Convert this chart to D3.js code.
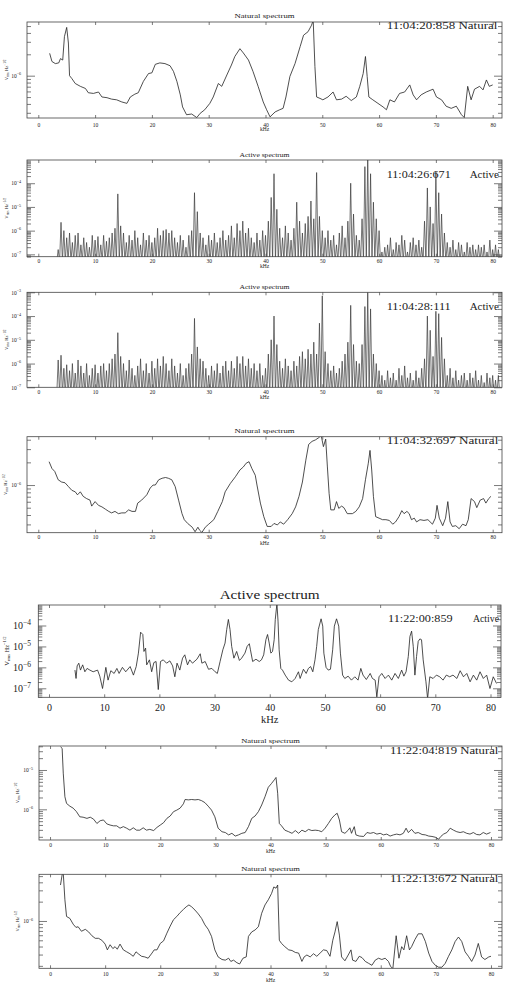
<!DOCTYPE html>
<html>
<head>
<meta charset="utf-8">
<title>Natural / Active spectra</title>
<script src="https://d3js.org/d3.v7.min.js"></script>
<style>
  html, body { margin:0; padding:0; background:#fff; }
  svg { display:block; }
  text { font-family:"Liberation Serif","DejaVu Serif",serif; fill:#222; }
  .frame { fill:none; stroke:#444; stroke-width:0.8; }
  .tick line { stroke:#444; stroke-width:0.7; }
  .domain { display:none; }
  .spec { fill:none; stroke:#222; stroke-width:0.8; stroke-linejoin:round; }
  .comb { fill:none; stroke:#3a3a3a; stroke-width:0.7; }
</style>
</head>
<body>
<script>
// ---- data: frequency (kHz) and log10 of the spectral density (V Hz^-1/2) ----

// 11:04:20:858 natural
const p1F = [2.0,2.4,3.0,3.6,3.9,4.3,4.6,5.0,5.3,5.5,5.9,6.5,7.4,8.3,8.8,9.7,10.6,11.2,12.1,12.9,13.8,14.7,15.6,16.2,17.0,17.6,18.5,19.4,20.0,20.6,21.4,22.3,23.2,23.8,24.4,25.0,25.4,26.1,27.0,27.9,28.5,29.3,30.2,30.8,31.7,32.3,33.2,34.0,34.6,35.5,36.1,37.0,37.8,38.7,39.6,40.2,40.8,41.7,42.5,43.1,43.6,44.3,45.2,46.1,46.7,47.5,48.1,48.4,48.7,49.0,49.6,50.1,51.0,51.9,52.5,53.4,54.2,55.1,56.0,56.6,57.2,57.6,57.9,58.2,58.9,59.8,60.7,61.3,61.9,62.7,63.6,64.5,65.4,66.0,66.6,67.4,68.3,69.5,70.1,71.0,71.8,72.7,73.6,74.5,75.0,75.6,76.2,76.8,77.7,78.3,78.9,79.4,80.0];
const p1L = [-5.685,-5.80,-5.83,-5.82,-5.76,-5.78,-5.45,-5.32,-5.54,-6.0,-6.04,-6.11,-6.15,-6.18,-6.24,-6.25,-6.23,-6.30,-6.31,-6.33,-6.34,-6.37,-6.39,-6.30,-6.26,-6.24,-6.08,-5.97,-5.96,-5.84,-5.82,-5.83,-5.86,-5.94,-6.08,-6.27,-6.44,-6.55,-6.54,-6.59,-6.53,-6.48,-6.39,-6.30,-6.11,-6.15,-5.99,-5.85,-5.73,-5.62,-5.68,-5.78,-5.94,-6.15,-6.37,-6.48,-6.58,-6.51,-6.48,-6.46,-6.30,-6.01,-5.83,-5.59,-5.43,-5.38,-5.29,-5.22,-5.87,-6.30,-6.32,-6.34,-6.30,-6.23,-6.34,-6.33,-6.29,-6.35,-6.30,-6.15,-5.97,-5.73,-6.01,-6.30,-6.34,-6.39,-6.44,-6.48,-6.34,-6.37,-6.25,-6.23,-6.13,-6.27,-6.34,-6.27,-6.23,-6.19,-6.30,-6.34,-6.43,-6.46,-6.43,-6.55,-6.59,-6.15,-6.34,-6.19,-6.15,-6.20,-6.06,-6.15,-6.13];

// active spectra: peak of each frequency bin, bins from 3.5 kHz every 0.5 kHz
const activeBins = d3.range(3.5, 81.01, 0.5);
const combFloor = 5e-8;
// 11:04:26:671 active
const p2L = [
  -6.8,-5.65,-6.0,-6.3,-6.1,-6.5,-6.2,-6.1,-6.6,-6.3,
  -6.5,-6.7,-6.2,-6.4,-6.25,-6.6,-6.2,-6.45,-6.3,-6.1,
  -5.9,-4.45,-5.8,-6.1,-6.5,-6.2,-6.4,-6.0,-6.3,-6.6,
  -6.1,-6.4,-6.2,-6.5,-6.3,-5.9,-6.2,-6.0,-5.95,-6.1,
  -6.0,-6.3,-6.5,-6.2,-6.4,-6.7,-6.2,-6.0,-4.4,-5.2,
  -6.1,-6.3,-6.6,-6.2,-6.4,-6.1,-6.5,-6.3,-6.0,-6.4,
  -6.2,-5.8,-6.3,-5.7,-6.0,-5.6,-6.1,-5.9,-6.3,-6.5,
  -6.1,-6.4,-6.0,-6.2,-5.6,-4.6,-3.6,-5.1,-5.9,-6.3,
  -5.8,-6.1,-6.4,-5.9,-4.8,-5.6,-6.1,-5.7,-5.4,-4.75,
  -5.5,-3.55,-5.4,-6.0,-6.3,-6.0,-6.4,-6.2,-6.6,-6.1,
  -5.8,-6.3,-5.6,-4.0,-5.3,-6.2,-6.4,-5.5,-3.3,-2.9,
  -3.6,-4.8,-5.5,-6.0,-6.9,-6.7,-6.6,-6.3,-6.8,-6.5,
  -6.6,-6.2,-6.4,-6.9,-6.5,-6.3,-6.6,-6.4,-6.7,-5.6,
  -4.2,-5.0,-5.7,-3.5,-4.4,-5.3,-6.1,-6.5,-6.7,-6.4,
  -6.8,-6.5,-6.6,-6.9,-6.5,-6.7,-6.6,-6.8,-6.6,-6.7,
  -6.6,-6.9,-6.4,-6.8,-6.6,-6.8];
// 11:04:28:111 active
const p3L = [
  -5.85,-5.65,-6.2,-6.05,-6.3,-6.0,-6.4,-5.85,-6.1,-6.4,
  -6.0,-6.5,-6.2,-6.05,-6.4,-6.1,-6.0,-6.3,-6.0,-5.8,
  -5.6,-4.7,-5.7,-6.0,-6.3,-5.85,-6.2,-6.5,-6.1,-5.8,
  -6.3,-6.0,-6.4,-5.9,-6.2,-5.8,-6.1,-5.7,-6.0,-6.3,
  -5.8,-6.1,-6.4,-6.0,-6.5,-6.2,-6.0,-5.6,-4.1,-5.3,
  -5.8,-5.9,-6.2,-6.5,-6.1,-6.3,-6.0,-6.4,-6.1,-5.9,
  -6.3,-5.9,-6.2,-5.7,-6.0,-5.7,-6.1,-5.8,-6.2,-6.0,
  -6.3,-6.0,-6.5,-6.2,-5.6,-5.0,-4.0,-5.2,-5.9,-6.2,
  -5.8,-6.1,-6.3,-5.9,-6.1,-5.7,-5.5,-5.8,-5.4,-5.6,
  -5.1,-5.6,-4.3,-3.15,-5.5,-6.0,-6.3,-6.1,-6.4,-6.2,
  -5.9,-5.6,-5.1,-3.55,-5.2,-5.9,-6.0,-5.2,-3.6,-3.0,
  -3.7,-5.6,-6.0,-6.3,-6.5,-6.7,-6.3,-6.6,-6.4,-6.7,
  -6.2,-6.5,-6.1,-6.6,-6.4,-6.7,-6.3,-6.6,-6.2,-5.8,
  -4.0,-4.6,-5.7,-3.8,-3.9,-4.9,-5.8,-6.5,-6.2,-6.6,
  -6.3,-6.7,-6.5,-6.4,-6.7,-6.4,-6.6,-6.3,-6.7,-6.5,
  -6.8,-6.4,-6.6,-6.5,-6.7,-6.5];

// 11:04:32:697 natural
const p4F = [1.9,2.4,2.9,3.5,4.1,4.7,5.3,5.9,6.5,6.9,7.4,7.9,8.5,9.1,9.4,10.0,10.6,11.2,11.8,12.4,12.9,13.5,14.1,14.7,15.3,15.9,16.5,17.1,17.5,18.2,19.1,19.7,20.2,20.6,21.2,21.8,22.4,22.9,23.5,24.1,24.7,25.3,25.7,26.3,27.1,27.6,28.1,28.4,28.8,29.4,30.0,30.9,31.6,32.4,32.9,33.8,34.7,35.5,36.1,36.6,37.1,37.6,38.2,38.5,39.1,39.7,40.3,41.0,41.5,42.1,42.6,43.2,43.9,44.7,45.3,45.9,46.5,47.1,47.6,48.2,48.8,49.4,49.8,50.2,50.6,50.9,51.2,51.5,52.1,52.5,52.9,53.4,53.8,54.4,55.3,55.9,56.5,57.1,57.6,58.1,58.4,58.7,59.0,59.4,60.0,60.6,61.2,61.8,62.4,62.9,63.5,64.0,64.4,64.9,65.3,65.7,66.2,66.6,67.2,67.9,68.6,69.4,69.9,70.2,70.6,71.2,71.7,72.1,72.5,72.9,73.5,74.1,74.7,75.3,75.7,76.2,76.8,77.2,77.8,78.4,78.8,79.3,79.7];
const p4L = [-5.69,-5.78,-5.82,-5.93,-5.96,-5.97,-6.02,-6.07,-6.09,-6.13,-6.09,-6.15,-6.18,-6.20,-6.28,-6.22,-6.27,-6.29,-6.32,-6.35,-6.37,-6.35,-6.38,-6.37,-6.37,-6.33,-6.35,-6.35,-6.24,-6.20,-6.13,-6.04,-6.0,-6.0,-5.93,-5.91,-5.90,-5.91,-5.93,-6.02,-6.20,-6.38,-6.46,-6.51,-6.56,-6.62,-6.56,-6.60,-6.63,-6.56,-6.52,-6.46,-6.35,-6.22,-6.09,-5.98,-5.89,-5.80,-5.76,-5.71,-5.69,-5.78,-5.87,-6.0,-6.24,-6.42,-6.55,-6.55,-6.51,-6.53,-6.49,-6.52,-6.46,-6.38,-6.29,-6.15,-5.96,-5.67,-5.46,-5.42,-5.40,-5.37,-5.34,-5.49,-5.39,-5.76,-6.11,-6.33,-6.33,-6.22,-6.31,-6.28,-6.30,-6.38,-6.38,-6.35,-6.29,-6.18,-5.93,-5.71,-5.54,-5.80,-6.15,-6.42,-6.44,-6.46,-6.46,-6.47,-6.52,-6.49,-6.42,-6.34,-6.38,-6.35,-6.38,-6.46,-6.44,-6.49,-6.46,-6.47,-6.46,-6.52,-6.44,-6.27,-6.44,-6.54,-6.44,-6.22,-6.49,-6.55,-6.54,-6.58,-6.52,-6.54,-6.46,-6.18,-6.22,-6.30,-6.20,-6.18,-6.24,-6.18,-6.15];

// 11:22:00:859 active
const p5F = [4.7,4.9,5.1,5.4,5.7,6.1,6.5,6.9,7.4,8.0,8.8,9.2,9.7,10.3,10.7,11.2,11.8,12.3,12.7,13.3,13.9,14.7,15.3,15.8,16.2,16.6,17.0,17.2,17.5,17.7,18.2,18.6,19.0,19.4,19.8,20.2,20.7,21.3,21.9,22.4,22.8,23.2,23.7,24.2,24.6,25.1,25.5,26.0,26.8,27.4,27.7,28.3,28.9,29.5,30.1,30.5,31.0,31.5,31.9,32.2,32.5,32.8,33.1,33.5,34.0,34.5,34.9,35.5,35.9,36.3,36.5,36.9,37.5,38.1,38.5,38.9,39.3,39.6,39.9,40.2,40.5,40.8,41.0,41.3,41.5,41.7,42.0,42.3,42.8,43.4,44.0,44.6,45.2,45.5,46.1,46.6,47.0,47.4,47.8,48.2,48.5,48.8,49.3,49.6,49.8,50.2,50.6,51.0,51.4,51.7,52.1,52.5,52.8,53.2,53.6,54.2,54.8,55.4,56.0,56.5,56.9,57.5,58.2,58.6,59.1,59.4,59.8,60.3,60.9,61.5,62.1,62.7,63.3,63.9,64.3,64.7,65.1,65.4,65.7,66.0,66.3,66.6,66.9,67.2,67.5,67.8,68.3,68.6,69.0,69.6,70.2,70.8,71.4,72.0,72.6,73.2,73.9,74.5,75.1,75.7,76.3,76.9,77.5,78.1,78.7,79.3,79.9,80.5,81.1];
const p5L = [-6.13,-6.53,-5.93,-5.80,-6.13,-5.88,-6.21,-6.05,-6.13,-6.21,-6.13,-6.42,-7.01,-6.0,-6.61,-6.16,-6.29,-6.05,-6.29,-6.0,-6.21,-5.96,-6.37,-5.96,-5.32,-4.32,-4.43,-5.24,-5.08,-5.88,-5.64,-6.21,-5.77,-5.72,-7.06,-5.72,-5.64,-5.80,-5.69,-5.93,-6.45,-5.80,-6.13,-5.56,-5.40,-5.88,-5.64,-5.80,-5.61,-5.35,-5.80,-5.72,-6.09,-6.05,-6.21,-6.29,-5.72,-5.16,-4.84,-4.19,-3.71,-4.19,-5.0,-5.56,-5.24,-5.67,-5.56,-5.32,-5.0,-4.87,-5.16,-5.72,-5.61,-5.72,-5.64,-5.40,-4.68,-4.43,-4.84,-5.32,-5.24,-4.68,-3.71,-2.95,-3.79,-5.16,-6.05,-6.13,-6.37,-6.61,-6.69,-6.53,-6.21,-6.53,-6.09,-6.29,-6.05,-5.96,-6.21,-5.64,-5.0,-4.19,-3.68,-4.03,-5.32,-6.0,-6.13,-6.09,-5.16,-4.03,-3.68,-4.03,-5.32,-6.37,-6.53,-6.42,-6.61,-6.45,-6.61,-6.05,-6.37,-6.58,-6.29,-6.53,-6.61,-7.41,-6.45,-6.29,-6.53,-6.37,-6.61,-6.29,-6.53,-6.13,-6.42,-6.21,-5.48,-4.52,-4.27,-5.0,-6.37,-5.48,-4.76,-4.64,-4.68,-5.64,-6.69,-7.49,-6.45,-6.53,-6.37,-6.45,-6.61,-6.37,-6.45,-6.37,-6.53,-6.16,-6.45,-6.29,-6.69,-6.37,-6.61,-6.21,-6.53,-6.37,-7.01,-6.45,-6.77];

// 11:22:04:819 natural
const p6F = [1.9,2.2,2.4,2.7,3.0,3.6,4.2,4.8,5.4,6.0,6.7,7.3,7.9,8.5,9.1,9.7,10.3,10.9,11.5,12.1,12.7,13.3,13.9,14.5,15.1,15.7,16.3,16.9,17.5,18.1,18.8,19.4,20.0,20.6,21.2,21.8,22.4,23.0,23.6,24.2,24.5,25.1,25.7,26.3,26.9,27.5,28.1,28.7,29.3,29.9,30.5,31.2,31.8,32.4,33.0,33.6,34.2,34.8,35.4,36.0,36.6,37.2,37.8,38.4,39.0,39.6,40.2,40.7,41.0,41.3,41.6,42.0,42.6,43.3,43.9,44.5,45.1,45.7,46.3,46.9,47.5,48.1,48.7,49.3,49.9,50.5,51.1,51.7,52.1,52.5,52.9,53.5,54.1,54.4,54.7,55.2,55.5,56.1,56.9,57.5,58.1,58.7,59.3,59.9,60.5,61.1,61.7,62.3,62.9,63.5,64.1,64.6,65.0,65.6,66.2,66.8,67.5,68.1,68.7,69.3,69.9,70.5,70.9,71.4,72.0,72.6,73.2,73.8,74.4,75.0,75.6,76.2,76.8,77.4,78.0,78.6,79.2,79.9];
const p6L = [-4.41,-4.45,-5.08,-5.68,-5.85,-5.92,-5.97,-6.06,-6.19,-6.20,-6.23,-6.20,-6.25,-6.36,-6.29,-6.27,-6.37,-6.40,-6.42,-6.42,-6.48,-6.44,-6.48,-6.53,-6.47,-6.53,-6.53,-6.47,-6.53,-6.51,-6.54,-6.46,-6.40,-6.34,-6.23,-6.17,-6.06,-6.02,-5.97,-5.86,-5.75,-5.76,-5.75,-5.76,-5.75,-5.78,-5.83,-5.92,-6.02,-6.19,-6.48,-6.57,-6.59,-6.65,-6.61,-6.68,-6.65,-6.61,-6.59,-6.44,-6.23,-6.17,-6.06,-5.89,-5.68,-5.44,-5.34,-5.25,-5.19,-5.59,-6.36,-6.42,-6.53,-6.57,-6.61,-6.54,-6.61,-6.53,-6.57,-6.51,-6.54,-6.53,-6.54,-6.57,-6.48,-6.36,-6.23,-6.14,-6.10,-6.27,-6.57,-6.61,-6.53,-6.47,-6.61,-6.44,-6.65,-6.68,-6.69,-6.59,-6.61,-6.59,-6.63,-6.61,-6.65,-6.63,-6.68,-6.65,-6.63,-6.65,-6.61,-6.48,-6.59,-6.51,-6.61,-6.59,-6.64,-6.65,-6.68,-6.69,-6.71,-6.76,-6.69,-6.63,-6.59,-6.48,-6.53,-6.57,-6.59,-6.57,-6.61,-6.63,-6.59,-6.64,-6.65,-6.59,-6.63,-6.59];

// 11:22:13:672 natural
const p7F = [1.9,2.2,2.4,2.7,3.0,3.6,4.2,4.7,5.1,5.7,6.4,7.0,7.6,8.2,8.8,9.4,10.0,10.4,10.9,11.4,11.8,12.2,12.7,13.3,13.9,14.5,15.1,15.6,16.0,16.6,17.2,17.8,18.5,18.9,19.4,20.0,20.6,21.2,21.8,22.4,23.0,23.6,24.2,24.7,25.2,25.7,26.3,26.9,27.5,28.1,28.7,29.3,29.9,30.5,31.2,31.8,32.4,32.8,33.3,33.9,34.4,35.0,35.6,36.0,36.6,37.2,37.8,38.4,39.0,39.6,40.2,40.6,41.0,41.3,41.6,42.0,42.6,43.3,43.9,44.5,45.1,45.7,46.1,46.6,47.2,47.8,48.4,49.0,49.6,50.2,50.8,51.3,51.7,52.1,52.5,52.9,53.5,54.1,54.6,54.9,55.5,56.1,56.6,57.2,57.8,58.4,59.0,59.6,60.2,60.8,61.4,61.8,62.2,62.8,63.3,63.8,64.2,64.7,65.2,65.6,66.2,66.8,67.5,68.1,68.7,69.3,69.9,70.5,71.1,71.7,72.3,72.9,73.5,74.1,74.7,75.3,75.9,76.5,77.1,77.7,78.3,78.9,79.6,80.0];
const p7L = [-5.44,-5.28,-5.25,-5.67,-5.93,-5.96,-6.05,-6.10,-6.09,-6.16,-6.13,-6.17,-6.23,-6.27,-6.27,-6.30,-6.36,-6.45,-6.37,-6.43,-6.40,-6.44,-6.36,-6.45,-6.48,-6.51,-6.55,-6.48,-6.51,-6.55,-6.56,-6.58,-6.50,-6.45,-6.45,-6.35,-6.31,-6.19,-6.08,-5.98,-5.93,-5.87,-5.82,-5.78,-5.75,-5.78,-5.83,-5.89,-5.96,-6.06,-6.13,-6.24,-6.45,-6.56,-6.60,-6.61,-6.58,-6.63,-6.61,-6.65,-6.67,-6.58,-6.56,-6.24,-6.17,-6.14,-6.09,-5.88,-5.75,-5.67,-5.57,-5.47,-5.49,-5.44,-6.30,-6.35,-6.40,-6.45,-6.46,-6.49,-6.50,-6.63,-6.56,-6.53,-6.56,-6.51,-6.55,-6.50,-6.45,-6.46,-6.55,-6.30,-6.17,-6.01,-6.22,-6.56,-6.62,-6.53,-6.45,-6.61,-6.63,-6.55,-6.57,-6.63,-6.66,-6.69,-6.61,-6.58,-6.60,-6.58,-6.63,-6.71,-6.74,-6.23,-6.58,-6.40,-6.45,-6.23,-6.45,-6.40,-6.29,-6.20,-6.20,-6.32,-6.50,-6.63,-6.69,-6.72,-6.72,-6.66,-6.55,-6.45,-6.32,-6.25,-6.32,-6.48,-6.55,-6.63,-6.53,-6.35,-6.56,-6.60,-6.56,-6.55];

const xTicks = [0, 10, 20, 30, 40, 50, 60, 70, 80];

// ---- layout of the seven stacked plots ----
const small = { fs: 5.5, title: 6.8, stamp: 11, ylab: 4.6 };
const panels = [
  { id: 1, x0: 27, x1: 502, y0: 22, y1: 118, xd: [-1.99, 81.64], yd: [-6.596, -5.244],
    title: "Natural spectrum", titleY: 18.3, titleW: 60, stamp: "11:04:20:858 Natural", stampY: 29.3, stampX: [386.7, 497.3],
    tickY: 126.5, kY: 131, ylabX: 8, labRight: 21, f: p1F, v: p1L, comb: false, sz: small },
  { id: 2, x0: 27, x1: 502, y0: 160, y1: 256.7, xd: [-1.99, 81.64], yd: [-7.1, -3.02],
    title: "Active spectrum", titleY: 157.3, titleW: 50, stamp: "11:04:26:671", mode: "Active", stampY: 178.3, stampX: [386.7, 450.7],
    tickY: 262.7, kY: 268.3, ylabX: 8, labRight: 21, f: activeBins, v: p2L, comb: true, sz: small },
  { id: 3, x0: 27, x1: 502, y0: 292.3, y1: 387.3, xd: [-1.99, 81.64], yd: [-7, -3],
    title: "Active spectrum", titleY: 289, titleW: 50, stamp: "11:04:28:111", mode: "Active", stampY: 310, stampX: [386.7, 450.7],
    tickY: 393.8, kY: 399.3, ylabX: 8, labRight: 21, f: activeBins, v: p3L, comb: true, sz: small },
  { id: 4, x0: 27, x1: 502, y0: 436.7, y1: 532.7, xd: [-1.99, 81.64], yd: [-6.633, -5.358],
    title: "Natural spectrum", titleY: 433.3, titleW: 60, stamp: "11:04:32:697 Natural", stampY: 444, stampX: [386.7, 498.3],
    tickY: 539.3, kY: 545, ylabX: 7, labRight: 21, f: p4F, v: p4L, comb: false, sz: small },
  { id: 5, x0: 38.3, x1: 501, y0: 605, y1: 697.3, xd: [-1.94, 81.9], yd: [-7.43, -3.02],
    title: "Active spectrum", titleY: 599.3, titleW: 100, stamp: "11:22:00:859", mode: "Active", stampY: 622.3, stampX: [388, 452.7],
    tickY: 711, kY: 722.7, ylabX: 8.5, labRight: 31, f: p5F, v: p5L, comb: false,
    sz: { fs: 10, title: 12.5, stamp: 9.8, ylab: 6.5 } },
  { id: 6, x0: 39, x1: 502, y0: 746, y1: 840, xd: [-2.0, 82.0], yd: [-6.78, -4.39],
    title: "Natural spectrum", titleY: 743.3, titleW: 58.6, stamp: "11:22:04:819 Natural", stampY: 754, stampX: [390, 498.3],
    tickY: 847.3, kY: 852.5, ylabX: 19, labRight: 33, f: p6F, v: p6L, comb: false, sz: small },
  { id: 7, x0: 39, x1: 502, y0: 874.3, y1: 968.3, xd: [-2.0, 82.0], yd: [-6.737, -5.273],
    title: "Natural spectrum", titleY: 871, titleW: 58.6, stamp: "11:22:13:672 Natural", stampY: 882, stampX: [390, 498.3],
    tickY: 976, kY: 981.5, ylabX: 19, labRight: 33, f: p7F, v: p7L, comb: false, sz: small }
];

const svg = d3.select("body").append("svg").attr("width", 509).attr("height", 1004);
svg.append("rect").attr("width", 509).attr("height", 1004).attr("fill", "#fff");
const defs = svg.append("defs");

function supLabel(sel, fs) {
  sel.each(function (d) {
    const t = d3.select(this);
    const e = Math.round(Math.log10(d));
    t.text("10");
    t.append("tspan").attr("dy", -0.45 * fs).attr("font-size", fs * 0.75).text("\u2212" + Math.abs(e));
  });
}

function drawPanel(p) {
  const x = d3.scaleLinear().domain(p.xd).range([p.x0, p.x1]);
  const y = d3.scaleLog().domain([10 ** p.yd[0], 10 ** p.yd[1]]).range([p.y1, p.y0]);
  const g = svg.append("g");
  const fs = p.sz.fs;

  // spectrum
  defs.append("clipPath").attr("id", "clip" + p.id).append("rect")
    .attr("x", p.x0).attr("y", p.y0).attr("width", p.x1 - p.x0).attr("height", p.y1 - p.y0);
  let pts;
  if (p.comb) {
    pts = [[p.f[0] - 0.25, combFloor]];
    p.v.forEach((lv, i) => { pts.push([p.f[i], 10 ** lv]); pts.push([p.f[i] + 0.25, combFloor]); });
  } else {
    pts = p.f.map((f, i) => [f, 10 ** p.v[i]]);
  }
  g.append("path").attr("class", p.comb ? "comb" : "spec").attr("clip-path", "url(#clip" + p.id + ")")
    .attr("d", d3.line().x(d => x(d[0])).y(d => y(d[1]))(pts));

  // frame
  g.append("rect").attr("class", "frame").attr("x", p.x0).attr("y", p.y0)
    .attr("width", p.x1 - p.x0).attr("height", p.y1 - p.y0);

  // x axes (ticks inward)
  const pad = p.tickY - p.y1 - 0.71 * fs;
  g.append("g").attr("transform", `translate(0,${p.y1})`)
    .call(d3.axisBottom(x).tickValues(xTicks).tickSizeInner(-3).tickSizeOuter(0).tickPadding(pad))
    .call(a => a.selectAll("text").attr("font-size", fs).attr("font-family", null).attr("fill", "#222"));
  g.append("g").attr("transform", `translate(0,${p.y0})`)
    .call(d3.axisTop(x).tickValues(xTicks).tickSizeInner(-3).tickSizeOuter(0).tickFormat(""));

  // y axes, decades and 2..9 minors
  const majors = [], minors = [];
  for (let e = Math.floor(p.yd[0]); e <= Math.floor(p.yd[1]); e++) {
    for (let m = 1; m <= 9; m++) {
      const lv = e + Math.log10(m);
      if (lv < p.yd[0] || lv > p.yd[1]) continue;
      (m === 1 ? majors : minors).push(10 ** lv);
    }
  }
  const big = 8, sm = 4;
  g.append("g").attr("transform", `translate(${p.x0},0)`)
    .call(d3.axisLeft(y).tickValues(majors).tickSizeInner(-big).tickSizeOuter(0).tickPadding(p.x0 - p.labRight))
    .call(a => a.selectAll("text").attr("font-size", fs).attr("font-family", null).attr("fill", "#222").call(supLabel, fs));
  g.append("g").attr("transform", `translate(${p.x0},0)`)
    .call(d3.axisLeft(y).tickValues(minors).tickSizeInner(-sm).tickSizeOuter(0).tickFormat(""));
  g.append("g").attr("transform", `translate(${p.x1},0)`)
    .call(d3.axisRight(y).tickValues(majors).tickSizeInner(-big).tickSizeOuter(0).tickFormat(""));
  g.append("g").attr("transform", `translate(${p.x1},0)`)
    .call(d3.axisRight(y).tickValues(minors).tickSizeInner(-sm).tickSizeOuter(0).tickFormat(""));

  // texts
  const cx = (p.x0 + p.x1) / 2;
  g.append("text").attr("x", cx).attr("y", p.kY).attr("text-anchor", "middle")
    .attr("font-size", p.id === 5 ? 10.5 : fs).text("kHz");
  g.append("text").attr("x", cx - p.titleW / 2).attr("y", p.titleY).attr("font-size", p.sz.title)
    .attr("textLength", p.titleW).attr("lengthAdjust", "spacingAndGlyphs").text(p.title);
  g.append("text").attr("x", p.stampX[0]).attr("y", p.stampY).attr("font-size", p.sz.stamp)
    .attr("textLength", p.stampX[1] - p.stampX[0]).attr("lengthAdjust", "spacingAndGlyphs").text(p.stamp);
  if (p.mode) {
    g.append("text").attr("x", 499).attr("y", p.stampY).attr("font-size", p.sz.stamp)
      .attr("text-anchor", "end").text(p.mode);
  }
  const yl = g.append("text").attr("transform", `translate(${p.ylabX},${(p.y0 + p.y1) / 2}) rotate(-90)`)
    .attr("text-anchor", "middle").attr("font-size", p.sz.ylab);
  yl.append("tspan").text("V");
  yl.append("tspan").attr("dy", p.sz.ylab * 0.3).attr("font-size", p.sz.ylab * 0.7).text("rms");
  yl.append("tspan").attr("dy", -p.sz.ylab * 0.3).text(" Hz");
  yl.append("tspan").attr("dy", -p.sz.ylab * 0.4).attr("font-size", p.sz.ylab * 0.7).text("\u22121/2");
}

panels.forEach(drawPanel);
</script>
</body>
</html>
